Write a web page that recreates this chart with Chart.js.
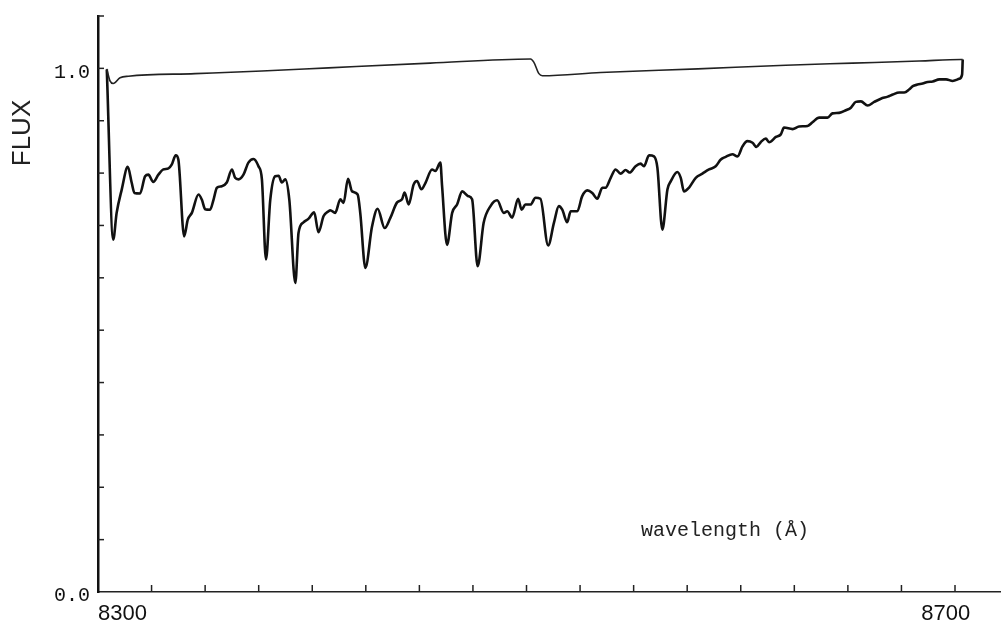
<!DOCTYPE html>
<html>
<head>
<meta charset="utf-8">
<script src="https://cdn.jsdelivr.net/npm/chart.js@4/dist/chart.umd.min.js"></script>
<style>
  html, body { margin: 0; padding: 0; background: #ffffff; }
  canvas { display: block; }
</style>
</head>
<body>
<canvas id="c" width="1001" height="626"></canvas>
<script>
// ---- data ----
const wavelengthLower = [
  8304.1, 8307.1, 8308.7, 8311.1, 8313.9, 8315.7, 8317.0, 8319.6, 8322.0, 8323.5,
  8325.8, 8328.2, 8330.5, 8332.9, 8334.4, 8336.3, 8337.5, 8340.2, 8341.9, 8343.8,
  8346.9, 8348.5, 8350.0, 8352.3, 8353.9, 8355.5, 8357.8, 8360.1, 8362.5, 8364.0,
  8365.6, 8367.9, 8370.2, 8372.6, 8374.9, 8376.5, 8378.4, 8380.4, 8382.7, 8384.3,
  8385.8, 8387.4, 8389.3, 8392.1, 8393.6, 8395.9, 8398.3, 8400.9, 8402.9, 8405.3,
  8407.6, 8408.4, 8410.7, 8413.1, 8414.6, 8416.7, 8418.6, 8421.2, 8422.4, 8424.8,
  8427.9, 8430.5, 8433.8, 8436.4, 8439.6, 8441.9, 8443.1, 8445.0, 8447.3, 8448.9,
  8450.9, 8452.8, 8455.9, 8457.5, 8459.8, 8460.6, 8462.9, 8465.3, 8467.6, 8470.0,
  8472.8, 8474.6, 8477.2, 8480.0, 8483.2, 8486.3, 8489.4, 8491.0, 8493.3, 8496.1,
  8497.7, 8499.5, 8501.9, 8504.2, 8506.5, 8510.1, 8512.8, 8515.1, 8516.7, 8519.0,
  8520.6, 8523.7, 8526.0, 8528.4, 8530.7, 8533.0, 8535.4, 8536.9, 8539.3, 8541.6,
  8543.9, 8546.3, 8548.1, 8550.9, 8553.3, 8554.8, 8557.2, 8559.5, 8561.1, 8563.4,
  8565.8, 8567.3, 8570.4, 8572.0, 8573.5, 8575.8, 8579.0, 8582.1, 8585.2, 8588.3,
  8590.7, 8593.0, 8596.1, 8598.5, 8600.8, 8603.1, 8605.5, 8607.3, 8609.3, 8611.7,
  8613.2, 8616.4, 8618.7, 8620.2, 8624.2, 8627.2, 8631.2, 8633.5, 8636.6, 8640.5,
  8642.8, 8645.9, 8649.1, 8651.4, 8653.7, 8656.1, 8659.2, 8662.3, 8665.4, 8668.6,
  8670.9, 8674.0, 8676.3, 8678.7, 8680.3, 8682.5, 8684.9, 8687.2, 8689.6, 8692.7,
  8695.8, 8698.9, 8702.0, 8703.3, 8703.6
];
const fluxLower = [
  0.998, 0.673, 0.724, 0.769, 0.812, 0.782, 0.762, 0.761, 0.794, 0.797,
  0.783, 0.797, 0.807, 0.809, 0.816, 0.834, 0.826, 0.679, 0.711, 0.724,
  0.759, 0.749, 0.731, 0.730, 0.749, 0.772, 0.775, 0.782, 0.807, 0.791,
  0.788, 0.797, 0.820, 0.827, 0.813, 0.788, 0.635, 0.749, 0.794, 0.795,
  0.782, 0.788, 0.749, 0.590, 0.686, 0.706, 0.713, 0.725, 0.687, 0.718,
  0.727, 0.729, 0.724, 0.750, 0.743, 0.789, 0.765, 0.759, 0.724, 0.619,
  0.698, 0.732, 0.695, 0.714, 0.744, 0.750, 0.763, 0.740, 0.778, 0.785,
  0.769, 0.781, 0.807, 0.804, 0.820, 0.775, 0.663, 0.724, 0.740, 0.765,
  0.756, 0.750, 0.622, 0.705, 0.737, 0.748, 0.724, 0.727, 0.715, 0.751,
  0.730, 0.740, 0.740, 0.753, 0.751, 0.662, 0.705, 0.737, 0.730, 0.706,
  0.727, 0.727, 0.756, 0.767, 0.762, 0.751, 0.772, 0.772, 0.791, 0.807,
  0.799, 0.806, 0.801, 0.813, 0.818, 0.813, 0.834, 0.832, 0.810, 0.692,
  0.769, 0.784, 0.802, 0.791, 0.765, 0.772, 0.791, 0.799, 0.807, 0.813,
  0.826, 0.831, 0.836, 0.832, 0.851, 0.861, 0.858, 0.850, 0.859, 0.866,
  0.859, 0.869, 0.874, 0.887, 0.884, 0.889, 0.890, 0.897, 0.906, 0.906,
  0.914, 0.915, 0.920, 0.925, 0.936, 0.937, 0.929, 0.936, 0.942, 0.946,
  0.950, 0.954, 0.954, 0.960, 0.966, 0.969, 0.971, 0.974, 0.975, 0.979,
  0.979, 0.976, 0.980, 0.988, 1.017
];
const wavelengthUpper = [
  8304.1, 8305.6, 8307.1, 8310.3, 8314.2, 8345.3, 8376.5, 8407.6, 8455.0, 8501.9,
  8503.4, 8505.8, 8507.4, 8534.6, 8580.0, 8621.0, 8652.2, 8683.3, 8702.8, 8703.6
];
const fluxUpper = [
  0.999, 0.976, 0.971, 0.982, 0.985, 0.990, 0.995, 1.001, 1.010, 1.018,
  1.012, 0.990, 0.986, 0.992, 0.999, 1.006, 1.010, 1.014, 1.017, 1.017
];

// ---- axes / tick labels ----
const xTickValues = [8300, 8325, 8350, 8375, 8400, 8425, 8450, 8475, 8500,
                     8525, 8550, 8575, 8600, 8625, 8650, 8675, 8700];
const xLabelValues = [8300, 8700];
const xLabelTexts  = ['        8300', '8700   '];
const yTickValues = [0, 0.1, 0.2, 0.3, 0.4, 0.5, 0.6, 0.7, 0.8, 0.9, 1.0, 1.1];
const yLabelValues = [0, 1];
const yLabelTexts  = ['0.0', '1.0'];
const yTitle = 'FLUX';
const xTitle = 'wavelength (Å)';

const toPoints = (xs, ys) => xs.map((v, i) => ({ x: v, y: ys[i] }));

const inwardTicks = {
  id: 'inwardTicks',
  afterDraw(chart) {
    const { ctx, chartArea, scales } = chart;
    const xs = scales.x, ys = scales.y;
    ctx.save();
    ctx.strokeStyle = '#222';
    ctx.lineWidth = 1.5;
    xs.ticks.forEach(t => {
      if (t.value === xs.min) return;
      const px = xs.getPixelForValue(t.value);
      ctx.beginPath();
      ctx.moveTo(px, chartArea.bottom);
      ctx.lineTo(px, chartArea.bottom - 7);
      ctx.stroke();
    });
    ys.ticks.forEach(t => {
      if (t.value === ys.min) return;
      const py = ys.getPixelForValue(t.value);
      ctx.beginPath();
      ctx.moveTo(chartArea.left, py);
      ctx.lineTo(chartArea.left + 6, py);
      ctx.stroke();
    });
    ctx.restore();
  }
};

const titles = {
  id: 'titles',
  afterDraw(chart) {
    const { ctx, chartArea } = chart;
    ctx.save();
    ctx.fillStyle = '#222';
    ctx.translate(23, chartArea.top + 117);
    ctx.rotate(-Math.PI / 2);
    ctx.font = '26px "Liberation Sans", Arial, sans-serif';
    ctx.textAlign = 'center';
    ctx.textBaseline = 'middle';
    ctx.fillText(yTitle, 0, 0);
    ctx.restore();

    ctx.save();
    ctx.fillStyle = '#222';
    ctx.font = '20px "Liberation Mono", "DejaVu Sans Mono", monospace';
    ctx.textAlign = 'left';
    ctx.textBaseline = 'middle';
    ctx.fillText(xTitle, 641, chartArea.bottom - 61);
    ctx.restore();
  }
};

new Chart(document.getElementById('c'), {
  type: 'line',
  data: {
    datasets: [
      {
        label: 'continuum',
        data: toPoints(wavelengthUpper, fluxUpper),
        borderColor: '#222',
        borderWidth: 1.6,
        pointRadius: 0,
        cubicInterpolationMode: 'monotone',
        fill: false
      },
      {
        label: 'spectrum',
        data: toPoints(wavelengthLower, fluxLower),
        borderColor: '#111',
        borderWidth: 2.6,
        pointRadius: 0,
        cubicInterpolationMode: 'monotone',
        fill: false
      }
    ]
  },
  options: {
    responsive: false,
    animation: false,
    layout: { padding: { top: 16, right: 1, left: 0, bottom: 0 } },
    plugins: {
      legend: { display: false },
      tooltip: { enabled: false },
      title: { display: false }
    },
    scales: {
      x: {
        type: 'linear',
        min: 8300,
        max: 8721,
        grid: { display: false, drawTicks: false, tickLength: 0 },
        border: { display: true, color: '#222', width: 1.5 },
        afterBuildTicks: s => { s.ticks = xTickValues.map(v => ({ value: v })); },
        afterFit: s => { s.height = 34; s.paddingLeft = 0; s.paddingRight = 0; },
        ticks: {
          autoSkip: false,
          maxRotation: 0,
          padding: 9,
          color: '#111',
          font: { family: '"Liberation Sans", Arial, sans-serif', size: 22 },
          callback: v => {
            const i = xLabelValues.indexOf(v);
            return i >= 0 ? xLabelTexts[i] : '';
          }
        }
      },
      y: {
        type: 'linear',
        min: 0,
        max: 1.1,
        grid: { display: false, drawTicks: false, tickLength: 0 },
        border: { display: true, color: '#111', width: 2.5 },
        afterBuildTicks: s => { s.ticks = yTickValues.map(v => ({ value: v })); },
        afterFit: s => { s.width = 98; s.paddingTop = 0; s.paddingBottom = 0; },
        ticks: {
          autoSkip: false,
          padding: 8,
          labelOffset: 4,
          color: '#111',
          font: { family: '"Liberation Mono", "DejaVu Sans Mono", monospace', size: 20 },
          callback: v => {
            const i = yLabelValues.findIndex(t => Math.abs(t - v) < 1e-9);
            return i >= 0 ? yLabelTexts[i] : '';
          }
        }
      }
    }
  },
  plugins: [inwardTicks, titles]
});
</script>
</body>
</html>
